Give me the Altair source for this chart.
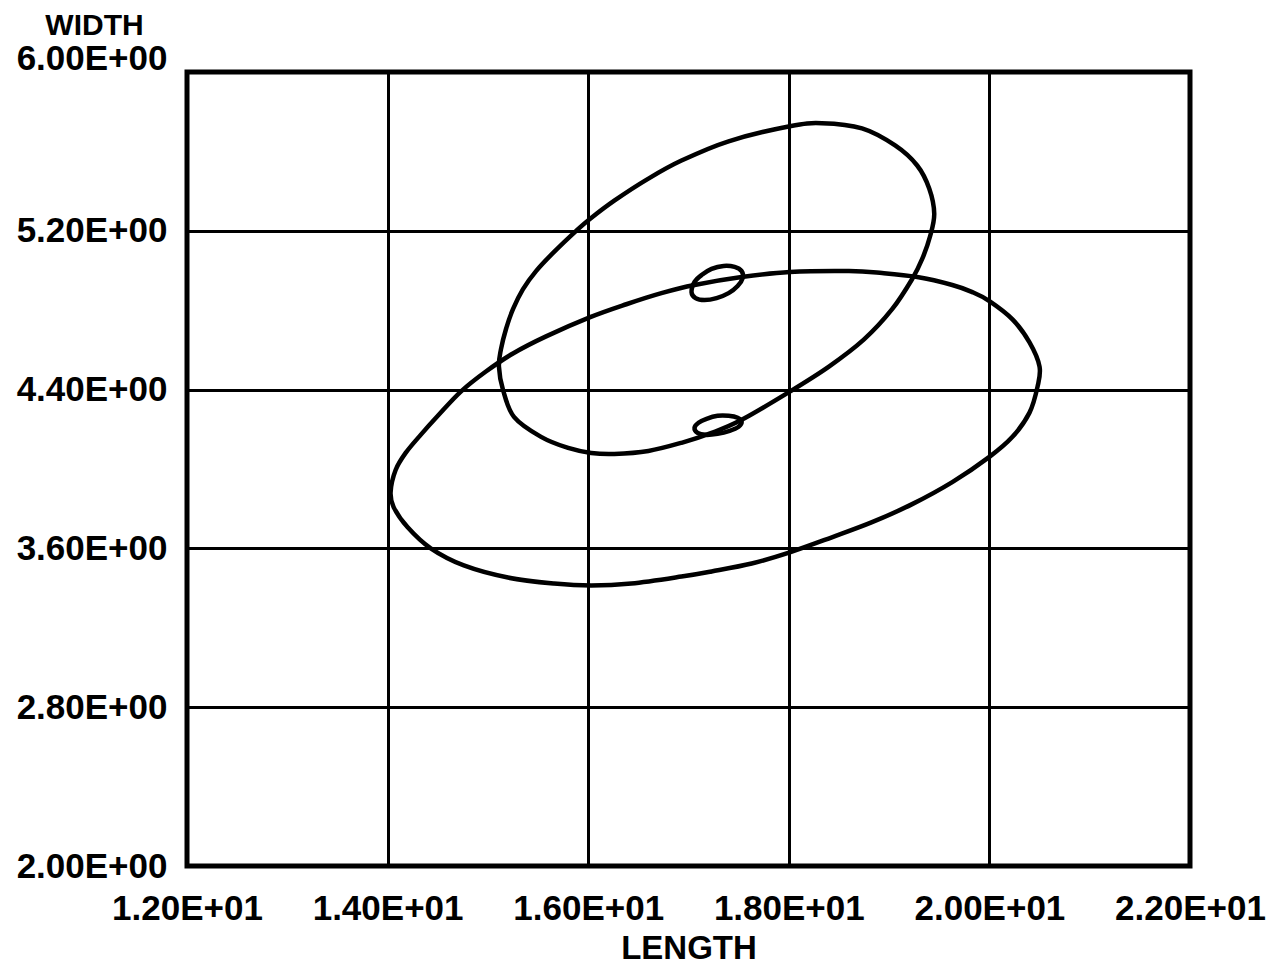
import altair as alt
import pandas as pd

# Large upper (tilted) contour
a_len = [15.11, 15.13, 15.18, 15.25, 15.35, 15.48, 15.66, 15.88, 16.02, 16.26, 16.60, 16.93,
         17.40, 18.01, 18.33, 18.73, 19.06, 19.28, 19.40, 19.45, 19.41, 19.33, 19.23, 19.03,
         18.75, 18.40, 18.01, 17.53, 17.23, 16.93, 16.60, 16.26, 16.03, 15.80, 15.53, 15.26,
         15.15]
a_wid = [4.516, 4.603, 4.704, 4.805, 4.906, 4.997, 5.094, 5.200, 5.261, 5.352, 5.463, 5.554,
         5.651, 5.727, 5.742, 5.716, 5.630, 5.529, 5.413, 5.286, 5.175, 5.058, 4.957, 4.805,
         4.653, 4.516, 4.390, 4.248, 4.182, 4.132, 4.091, 4.076, 4.081, 4.106, 4.162, 4.263,
         4.400]

# Large lower (wide) contour
b_len = [14.03, 14.08, 14.18, 14.33, 14.51, 14.73, 14.98, 15.25, 15.58, 16.02, 16.38, 16.73,
         17.06, 17.53, 18.01, 18.60, 18.93, 19.28, 19.63, 19.83, 20.00, 20.23, 20.40, 20.50,
         20.48, 20.40, 20.23, 20.00, 19.63, 19.23, 18.83, 18.43, 18.01, 17.63, 17.23, 16.93,
         16.43, 16.03, 15.66, 15.20, 14.76, 14.43, 14.20, 14.06]
b_wid = [3.884, 3.995, 4.081, 4.172, 4.273, 4.390, 4.491, 4.582, 4.668, 4.765, 4.830, 4.886,
         4.927, 4.967, 4.992, 4.997, 4.987, 4.967, 4.927, 4.891, 4.846, 4.754, 4.638, 4.516,
         4.415, 4.284, 4.162, 4.061, 3.934, 3.823, 3.732, 3.656, 3.580, 3.524, 3.484, 3.458,
         3.423, 3.413, 3.423, 3.453, 3.514, 3.600, 3.706, 3.808]

# Small upper contour
c_len = [17.03, 17.06, 17.13, 17.23, 17.35, 17.46, 17.53, 17.54, 17.49, 17.40, 17.28, 17.16, 17.07]
c_wid = [4.891, 4.942, 4.977, 5.008, 5.023, 5.018, 4.997, 4.962, 4.922, 4.886, 4.861, 4.851, 4.861]

# Small lower contour
d_len = [17.06, 17.10, 17.18, 17.29, 17.40, 17.49, 17.53, 17.50, 17.41, 17.29, 17.17, 17.09]
d_wid = [4.208, 4.233, 4.253, 4.268, 4.268, 4.258, 4.238, 4.213, 4.192, 4.177, 4.172, 4.182]

x_ticks = [12, 14, 16, 18, 20, 22]
x_tick_labels = ["1.20E+01", "1.40E+01", "1.60E+01", "1.80E+01", "2.00E+01", "2.20E+01"]
y_ticks = [2.0, 2.8, 3.6, 4.4, 5.2, 6.0]
y_tick_labels = ["2.00E+00", "2.80E+00", "3.60E+00", "4.40E+00", "5.20E+00", "6.00E+00"]

rows = []
for name, xs, ys in [("A", a_len, a_wid), ("B", b_len, b_wid),
                     ("C", c_len, c_wid), ("D", d_len, d_wid)]:
    for i, (xv, yv) in enumerate(zip(xs, ys)):
        rows.append({"curve": name, "order": i, "LENGTH": xv, "WIDTH": yv})
df = pd.DataFrame(rows)


def label_expr(vals, labels):
    expr = "''"
    for v, l in reversed(list(zip(vals, labels))):
        expr = f"abs(datum.value - {v}) < 0.001 ? '{l}' : ({expr})"
    return expr


FONT = "Liberation Sans"
FS = 35

chart = alt.Chart(df).mark_line(
    interpolate="cardinal-closed", color="black", strokeWidth=4.5,
    strokeJoin="round", strokeCap="round"
).encode(
    x=alt.X("LENGTH:Q",
            scale=alt.Scale(domain=[12, 22], nice=False, zero=False),
            axis=alt.Axis(values=x_ticks, labelExpr=label_expr(x_ticks, x_tick_labels),
                          title="LENGTH", grid=True, ticks=False, domain=False,
                          labelPadding=25, titlePadding=6, titleFontSize=33)),
    y=alt.Y("WIDTH:Q",
            scale=alt.Scale(domain=[2, 6], nice=False, zero=False),
            axis=alt.Axis(values=y_ticks, labelExpr=label_expr(y_ticks, y_tick_labels),
                          title="WIDTH", grid=True, ticks=False, domain=False,
                          labelPadding=20, titleAngle=0, titleAlign="center",
                          titleBaseline="middle", titleX=-93, titleY=-47, titleFontSize=30,
                          labelOffset={"condition": {"test": "datum.value > 5.9", "value": -14},
                                       "value": 0})),
    detail="curve:N",
    order="order:Q",
).properties(
    width=1003, height=794,
    autosize=alt.AutoSizeParams(type="none"),
    padding={"left": 179, "top": 64, "right": 85, "bottom": 104},
).configure_view(
    stroke="black", strokeWidth=5
).configure_axis(
    gridColor="black", gridWidth=3, gridOpacity=1,
    labelFont=FONT, labelFontSize=FS, labelFontWeight="bold", labelColor="black",
    titleFont=FONT, titleFontWeight="bold", titleColor="black",
    labelOverlap=False, labelBound=False, labelFlush=False,
)

chart.save("out.html", embed_options={"renderer": "svg", "actions": False})
